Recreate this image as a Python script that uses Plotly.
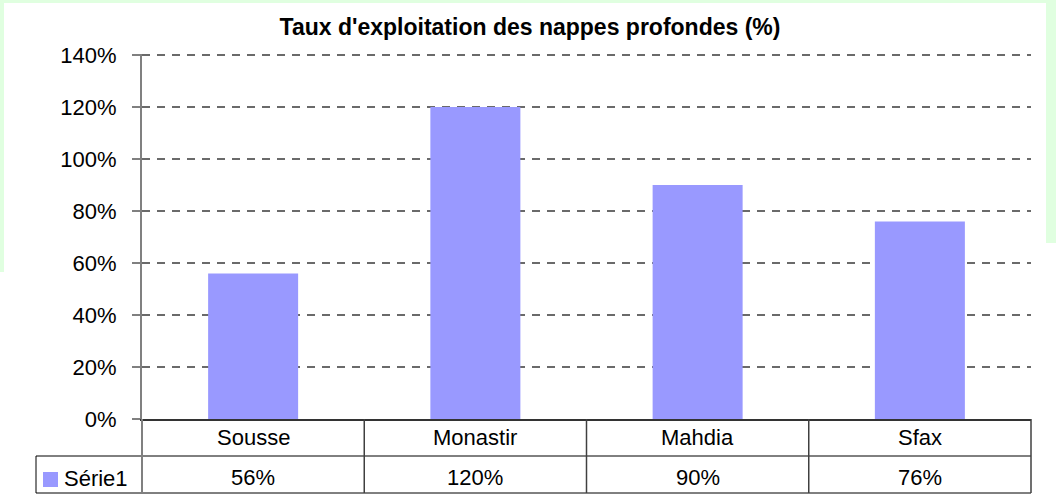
import plotly.graph_objects as go

categories = ["Sousse", "Monastir", "Mahdia", "Sfax"]
values = [56, 120, 90, 76]
series_name = "Série1"
y_ticks = [0, 20, 40, 60, 80, 100, 120, 140]
title_text = "Taux d'exploitation des nappes profondes (%)"

W, H = 1056, 497
L, R, T, B = 142, 1031, 54, 419  # plot area in pixels
PW, PH = R - L, B - T
YMAX = 140.4

def fx(px):
    return (px - L) / PW

def fy(py):
    return (B - py) / PH

BAR = "#9999ff"
FONT = "Liberation Sans, Arial, sans-serif"
FS = 22

fig = go.Figure()
fig.add_trace(go.Bar(x=categories, y=values, marker=dict(color=BAR, line=dict(width=0)),
                     name=series_name, showlegend=False))

shapes = []
# light green frame remnants
green = "#e0ffe0"
for x0, x1, y0, y1 in [(0, W, 0, 3), (0, 4, 0, 272), (1046, W, 0, 243)]:
    shapes.append(dict(type="rect", xref="paper", yref="paper", x0=fx(x0), x1=fx(x1),
                       y0=fy(y1), y1=fy(y0), fillcolor=green, line=dict(width=0), layer="below"))

# data table lines
blk = dict(color="#000000", width=1)
vln = dict(color="#404040", width=1.5)
n = len(categories)
row1, row2 = 456, 493
shapes.append(dict(type="line", xref="paper", yref="paper", x0=fx(36), x1=1, y0=fy(row1), y1=fy(row1), line=blk))
shapes.append(dict(type="line", xref="paper", yref="paper", x0=fx(36), x1=1, y0=fy(row2), y1=fy(row2), line=blk))
shapes.append(dict(type="line", xref="paper", yref="paper", x0=fx(36), x1=fx(36), y0=fy(row1), y1=fy(row2), line=blk))
for i in range(1, n + 1):
    shapes.append(dict(type="line", xref="paper", yref="paper", x0=i / n, x1=i / n, y0=0, y1=fy(row2), line=vln))
# y axis line extension through table
shapes.append(dict(type="line", xref="paper", yref="paper", x0=0, x1=0, y0=0, y1=fy(row2),
                   line=dict(color="#808080", width=2)))
# legend key
shapes.append(dict(type="rect", xref="paper", yref="paper", x0=fx(43), x1=fx(58), y0=fy(487), y1=fy(472),
                   fillcolor=BAR, line=dict(width=0)))

annotations = []
tf = dict(family=FONT, size=FS, color="#000")
for i, (c, v) in enumerate(zip(categories, values)):
    annotations.append(dict(x=(i + 0.5) / n, y=fy(438), xref="paper", yref="paper", text=c,
                            xanchor="center", yanchor="middle", showarrow=False, font=tf))
    annotations.append(dict(x=(i + 0.5) / n, y=fy(477), xref="paper", yref="paper", text=f"{v}%",
                            xanchor="center", yanchor="middle", showarrow=False, font=tf))
annotations.append(dict(x=fx(62), y=fy(478), xref="paper", yref="paper", text=series_name,
                        xanchor="left", yanchor="middle", showarrow=False, font=tf))

fig.update_layout(
    width=W, height=H,
    margin=dict(l=L, r=W - R, t=T, b=H - B, pad=0),
    paper_bgcolor="white", plot_bgcolor="white",
    title=dict(text=f"<b>{title_text}</b>", x=530 / W, xref="container", xanchor="center",
               y=1 - 27 / H, yref="container", yanchor="middle",
               font=dict(family=FONT, size=23, color="#000")),
    bargap=0.595,
    shapes=shapes, annotations=annotations,
    xaxis=dict(showticklabels=False, ticks="", showgrid=False, showline=True,
               linecolor="#333333", linewidth=2, range=[-0.5, n - 0.5], fixedrange=True),
    yaxis=dict(range=[0, YMAX], tickvals=y_ticks, ticktext=[f"{t}%" for t in y_ticks],
               ticks="outside", ticklen=8, tickcolor="#808080", tickwidth=1.5,
               ticklabelstandoff=11,
               showline=True, linecolor="#808080", linewidth=2,
               showgrid=True, gridcolor="#6a6a6a", gridwidth=1.5, griddash="8px,7px",
               zeroline=False, fixedrange=True,
               tickfont=tf),
)

fig.write_html("out.html", config={"displayModeBar": False},
               post_script="document.body.style.margin='0px';document.body.style.overflow='hidden';")
